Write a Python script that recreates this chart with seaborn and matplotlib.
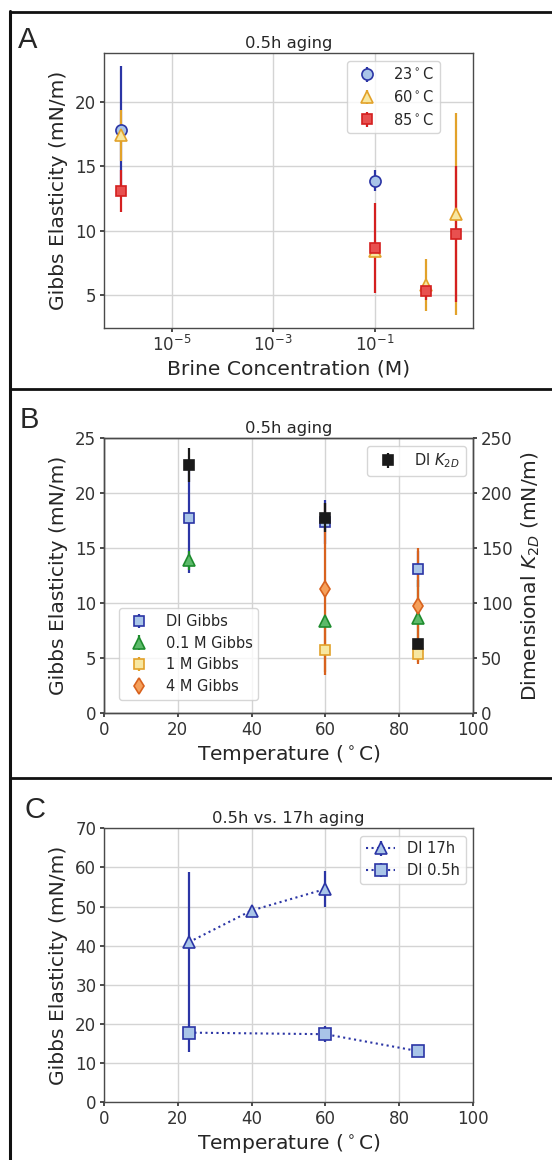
import numpy as np
import matplotlib
matplotlib.use("Agg")
import matplotlib.pyplot as plt
from matplotlib.lines import Line2D
import seaborn as sns

# brine concentrations (DI water is put at 1e-6 M on the log axis)
conc_vals = [1e-6, 0.1, 1, 4]
conc_names = ["DI", "0.1 M", "1 M", "4 M"]
temps = [23, 60, 85]

# Gibbs elasticity after 0.5h aging, one row per temperature, one column per brine
gibbs_23 = [17.8, 13.9, np.nan, np.nan]
gibbs_60 = [17.4, 8.4, 5.8, 11.3]
gibbs_85 = [13.1, 8.65, 5.35, 9.75]
err_23 = [5.0, 0.85, np.nan, np.nan]
err_60 = [2.0, 0.4, 2.05, 7.85]
err_85 = [1.65, 3.5, 0.7, 5.25]

# dimensional K2D for DI (right axis of B)
k2d_di = [226, 178, 63]
k2d_err = [15.5, 13, 3]

# DI after 17h aging
temps_17h = [23, 40, 60]
gibbs_17h = [40.9, 49.0, 54.5]
err_17h = [18.0, 0.6, 4.5]

temp_labels = ["23$^\\circ$C", "60$^\\circ$C", "85$^\\circ$C"]

blue = ("#2b35a5", "#a9c5e8")
yellow = ("#e2a22a", "#f7e7a1")
red = ("#d42020", "#e8504f")
green = ("#1e8c2e", "#5dba6a")
orange = ("#d8621e", "#f5a05a")

sns.set_theme(style="ticks", rc={
    "axes.grid": True,
    "grid.color": "#d4d4d4",
    "grid.linewidth": 1.0,
    "axes.edgecolor": "#4a4a4a",
    "axes.linewidth": 1.0,
    "xtick.color": "#333333",
    "ytick.color": "#333333",
    "xtick.major.size": 3,
    "ytick.major.size": 3,
})
plt.rcParams["font.family"] = ["DejaVu Sans"]

TICK = 12
LAB = 14.6
TIT = 11.8
LEG = 10.5

W, H = 552.0, 1160.0
fig = plt.figure(figsize=(5.52, 11.6), dpi=100)


def eb(ax, x, y, err, col, marker, ms=7.5, ls="none", label=None):
    ax.errorbar(x, y, yerr=err, fmt=marker, ls=ls, color=col[0], mfc=col[1],
                mec=col[0], ms=ms, mew=1.2, elinewidth=1.6, capsize=0, lw=1.5,
                label=label)


def style(ax):
    ax.tick_params(labelsize=TICK, pad=2.5)
    for s in ax.spines.values():
        s.set_visible(True)


def box(top, bottom):
    return [104 / W, 1 - bottom / H, 369 / W, (bottom - top) / H]


# ---------------- A
axA = fig.add_axes(box(53.3, 327.7))
axA.set_xscale("log")
eb(axA, conc_vals, gibbs_23, err_23, blue, "o", ms=8, label=temp_labels[0])
eb(axA, conc_vals, gibbs_60, err_60, yellow, "^", ms=8.5, label=temp_labels[1])
eb(axA, conc_vals, gibbs_85, err_85, red, "s", ms=7.5, label=temp_labels[2])
axA.set_xticks([1e-5, 1e-3, 1e-1])
axA.xaxis.set_minor_locator(matplotlib.ticker.NullLocator())
axA.set_yticks([5, 10, 15, 20])
axA.set_xlabel("Brine Concentration (M)", fontsize=LAB, labelpad=3)
axA.set_ylabel("Gibbs Elasticity (mN/m)", fontsize=LAB, labelpad=5)
axA.set_title("0.5h aging", fontsize=TIT, pad=4)
axA.legend(loc="upper right", bbox_to_anchor=(0.931, 1.0), fontsize=LEG,
           labelspacing=0.45)
style(axA)

# ---------------- B
axB = fig.add_axes(box(438.3, 713.3))
gibbs_by_conc = np.array([gibbs_23, gibbs_60, gibbs_85])
err_by_conc = np.array([err_23, err_60, err_85])
b_styles = [(blue, "s", 7.5), (green, "^", 8.5), (yellow, "s", 7.5), (orange, "d", 8)]
for j, (col, mk, ms) in enumerate(b_styles):
    eb(axB, temps, gibbs_by_conc[:, j], err_by_conc[:, j], col, mk, ms=ms,
       label=conc_names[j] + " Gibbs")
axB.set_xlim(0, 100)
axB.set_ylim(0, 25)
axB.set_xticks(range(0, 101, 20))
axB.set_yticks(range(0, 26, 5))
axB.set_xlabel("Temperature ($^\\circ$C)", fontsize=LAB, labelpad=3)
axB.set_ylabel("Gibbs Elasticity (mN/m)", fontsize=LAB, labelpad=5)
axB.set_title("0.5h aging", fontsize=TIT, pad=4)
axB.legend(loc="lower left", bbox_to_anchor=(0.021, 0.023), fontsize=LEG,
           labelspacing=0.45)
style(axB)

axB2 = axB.twinx()
eb(axB2, temps, k2d_di, k2d_err, ("k", "k"), "s", ms=7.5, label="DI $K_{2D}$")
axB2.set_ylim(0, 250)
axB2.set_yticks(range(0, 251, 50))
axB2.grid(False)
axB2.set_ylabel("Dimensional $K_{2D}$ (mN/m)", fontsize=LAB, labelpad=5)
axB2.legend(loc="upper right", fontsize=LEG)
style(axB2)

# ---------------- C
axC = fig.add_axes(box(828.3, 1102.3))
eb(axC, temps_17h, gibbs_17h, err_17h, blue, "^", ms=9, ls=":", label="DI 17h")
eb(axC, temps, gibbs_by_conc[:, 0], err_by_conc[:, 0], blue, "s", ms=8, ls=":",
   label="DI 0.5h")
axC.set_xlim(0, 100)
axC.set_ylim(0, 70)
axC.set_xticks(range(0, 101, 20))
axC.set_yticks(range(0, 71, 10))
axC.set_xlabel("Temperature ($^\\circ$C)", fontsize=LAB, labelpad=3)
axC.set_ylabel("Gibbs Elasticity (mN/m)", fontsize=LAB, labelpad=5)
axC.set_title("0.5h vs. 17h aging", fontsize=TIT, pad=4)
axC.legend(loc="upper right", fontsize=LEG, labelspacing=0.45)
style(axC)

# panel frames and letters
for yy in [12, 389, 778]:
    fig.add_artist(Line2D([10 / W, 1], [1 - yy / H] * 2, color="#111111", lw=2))
fig.add_artist(Line2D([10 / W] * 2, [0, 1 - 11 / H], color="#111111", lw=2.2))
for letter, x, y in [("A", 18, 47.5), ("B", 20, 427.7), ("C", 24, 817.5)]:
    fig.text(x / W, 1 - y / H, letter, fontsize=21, family="Liberation Sans",
             va="baseline", ha="left")

fig.savefig("out.png", dpi=100)
